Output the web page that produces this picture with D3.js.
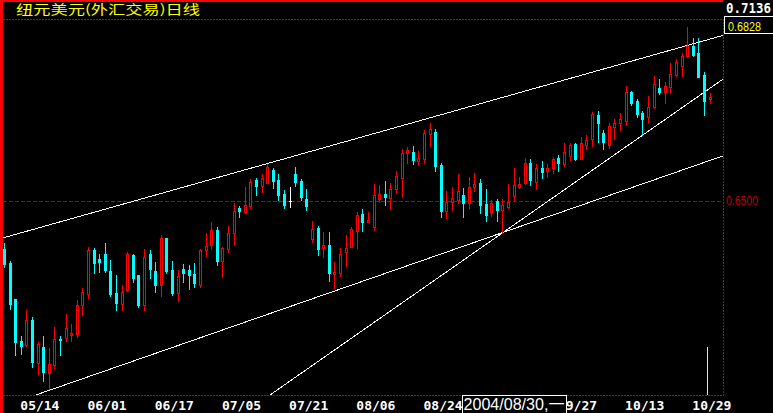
<!DOCTYPE html>
<html><head><meta charset="utf-8">
<script src="https://cdn.jsdelivr.net/npm/d3@7"></script>
<style>
html,body{margin:0;padding:0;background:#000;overflow:hidden;}
svg{display:block;}
</style></head><body>
<svg id="c" width="773" height="413"></svg>
<script>
const title = "纽元美元(外汇交易)日线";
const dates = ["05/11","05/12","05/13","05/14","05/17","05/18","05/19","05/20","05/21","05/24","05/25","05/26","05/27","05/28","05/31",
"06/01","06/02","06/03","06/04","06/07","06/08","06/09","06/10","06/11","06/14","06/15","06/16","06/17","06/18","06/21","06/22","06/23","06/24","06/25","06/28","06/29","06/30",
"07/01","07/02","07/05","07/06","07/07","07/08","07/09","07/12","07/13","07/14","07/15","07/16","07/19","07/20","07/21","07/22","07/23","07/26","07/27","07/28","07/29","07/30",
"08/02","08/03","08/04","08/05","08/06","08/09","08/10","08/11","08/12","08/13","08/16","08/17","08/18","08/19","08/20","08/23","08/24","08/25","08/26","08/27","08/30","08/31",
"09/01","09/02","09/03","09/06","09/07","09/08","09/09","09/10","09/13","09/14","09/15","09/16","09/17","09/20","09/21","09/22","09/23","09/24","09/27","09/28","09/29","09/30",
"10/01","10/04","10/05","10/06","10/07","10/08","10/11","10/12","10/13","10/14","10/15","10/18","10/19","10/20","10/21","10/22","10/25","10/26","10/27","10/28","10/29",
"11/01","11/02","11/03"];
const openV = [0.6348,0.6303,0.6190,0.6058,0.6044,0.6123,0.5988,0.6039,0.5957,0.5982,0.6063,0.6067,0.6077,0.6080,0.6170,
0.6207,0.6345,0.6316,0.6332,0.6278,0.6208,0.6175,0.6217,0.6328,0.6266,0.6171,0.6332,0.6278,0.6233,0.6383,0.6282,0.6208,0.6285,0.6282,0.6269,0.6234,0.6345,
0.6361,0.6408,0.6309,0.6348,0.6400,0.6478,0.6466,0.6484,0.6566,0.6548,0.6558,0.6598,0.6566,0.6522,0.6500,0.6585,0.6563,0.6506,0.6380,0.6415,0.6352,0.6361,
0.6270,0.6272,0.6340,0.6354,0.6405,0.6459,0.6434,0.6418,0.6507,0.6522,0.6510,0.6539,0.6574,0.6653,0.6655,0.6627,0.6634,0.6713,0.6718,0.6614,0.6469,0.6498,
0.6503,0.6519,0.6494,0.6545,0.6557,0.6490,0.6466,0.6501,0.6472,0.6482,0.6517,0.6543,0.6556,0.6620,0.6559,0.6603,0.6596,0.6604,0.6637,0.6617,0.6642,0.6681,
0.6633,0.6678,0.6695,0.6772,0.6714,0.6677,0.6735,0.6746,0.6753,0.6846,0.6816,0.6777,0.6765,0.6796,0.6857,0.6846,0.6862,0.6898,0.6927,0.6959,0.6990,
0.6969,0.6899,0.6824];
const highV = [0.6368,0.6310,0.6191,0.6073,0.6155,0.6133,0.6055,0.6073,0.6035,0.6101,0.6073,0.6142,0.6111,0.6187,0.6225,
0.6354,0.6352,0.6332,0.6367,0.6313,0.6266,0.6234,0.6339,0.6332,0.6266,0.6348,0.6345,0.6306,0.6393,0.6384,0.6310,0.6282,0.6301,0.6297,0.6304,0.6348,0.6399,
0.6433,0.6418,0.6355,0.6421,0.6493,0.6484,0.6544,0.6570,0.6574,0.6585,0.6617,0.6603,0.6585,0.6535,0.6544,0.6608,0.6570,0.6538,0.6437,0.6421,0.6402,0.6402,
0.6307,0.6351,0.6392,0.6418,0.6465,0.6475,0.6465,0.6554,0.6551,0.6563,0.6557,0.6595,0.6665,0.6671,0.6674,0.6658,0.6725,0.6747,0.6728,0.6620,0.6532,0.6544,
0.6585,0.6541,0.6576,0.6589,0.6570,0.6538,0.6503,0.6505,0.6506,0.6554,0.6603,0.6575,0.6635,0.6633,0.6616,0.6627,0.6616,0.6639,0.6645,0.6684,0.6684,0.6684,
0.6701,0.6709,0.6781,0.6786,0.6725,0.6746,0.6758,0.6777,0.6864,0.6849,0.6823,0.6786,0.6832,0.6896,0.6886,0.6877,0.6936,0.6948,0.6967,0.7052,0.7015,
0.7015,0.6909,0.6843];
const lowV = [0.6292,0.6159,0.6013,0.6016,0.6041,0.5976,0.5953,0.5930,0.5904,0.5972,0.6013,0.6057,0.6058,0.6069,0.6139,
0.6193,0.6273,0.6276,0.6275,0.6198,0.6155,0.6156,0.6215,0.6244,0.6164,0.6155,0.6257,0.6212,0.6198,0.6273,0.6201,0.6185,0.6245,0.6221,0.6229,0.6228,0.6326,
0.6348,0.6297,0.6259,0.6339,0.6361,0.6450,0.6463,0.6477,0.6519,0.6529,0.6556,0.6541,0.6503,0.6478,0.6481,0.6547,0.6503,0.6472,0.6370,0.6329,0.6323,0.6247,
0.6225,0.6263,0.6294,0.6354,0.6351,0.6405,0.6434,0.6408,0.6497,0.6487,0.6475,0.6525,0.6513,0.6620,0.6617,0.6614,0.6620,0.6674,0.6595,0.6449,0.6446,0.6472,
0.6494,0.6449,0.6478,0.6532,0.6461,0.6438,0.6453,0.6438,0.6400,0.6477,0.6503,0.6540,0.6553,0.6551,0.6537,0.6573,0.6577,0.6589,0.6596,0.6611,0.6630,0.6630,
0.6633,0.6665,0.6674,0.6688,0.6666,0.6667,0.6695,0.6725,0.6741,0.6804,0.6767,0.6709,0.6751,0.6793,0.6839,0.6811,0.6843,0.6896,0.6896,0.6957,0.6959,
0.6891,0.6772,0.6811];
const closeV = [0.6301,0.6174,0.6055,0.6042,0.6123,0.5991,0.6047,0.5959,0.5984,0.6063,0.6061,0.6098,0.6082,0.6170,0.6211,
0.6345,0.6305,0.6307,0.6282,0.6206,0.6178,0.6212,0.6332,0.6256,0.6171,0.6322,0.6286,0.6235,0.6382,0.6278,0.6210,0.6262,0.6273,0.6267,0.6240,0.6345,0.6358,
0.6408,0.6310,0.6351,0.6399,0.6468,0.6468,0.6486,0.6560,0.6548,0.6572,0.6608,0.6563,0.6519,0.6487,0.6500,0.6560,0.6514,0.6484,0.6411,0.6348,0.6361,0.6272,
0.6275,0.6332,0.6351,0.6411,0.6456,0.6433,0.6440,0.6519,0.6522,0.6513,0.6538,0.6579,0.6652,0.6661,0.6630,0.6636,0.6715,0.6728,0.6611,0.6468,0.6498,0.6509,
0.6532,0.6493,0.6544,0.6554,0.6487,0.6456,0.6493,0.6472,0.6486,0.6497,0.6550,0.6553,0.6619,0.6566,0.6603,0.6593,0.6603,0.6632,0.6620,0.6654,0.6677,0.6633,
0.6683,0.6692,0.6775,0.6748,0.6688,0.6737,0.6746,0.6758,0.6845,0.6811,0.6775,0.6759,0.6796,0.6869,0.6846,0.6864,0.6901,0.6939,0.6959,0.6990,0.6962,
0.6893,0.6817,0.6828];
const tickDates = ["05/14","06/01","06/17","07/05","07/21","08/06","08/24","09/09","09/27","10/13","10/29"];
const priceTicks = [0.65];
const yDomain = [0.5886, 0.7136];
const topValue = 0.7136;
const lastValue = 0.6828;
const cursorLabel = "2004/08/30,一";
// trend lines: [index, price] anchor pairs
const trendUpper = [[0, 0.6384], [126, 0.7012]];
const trendLower = [[0, 0.5851], [126, 0.6628]];
const trendSteep = [[50, 0.5917], [126, 0.6856]];

const svg = d3.select("#c");
const P = {left:3, right:723, top:19, bottom:395};
const x = d3.scaleLinear().domain([0, dates.length - 1]).range([4, 709.6]);
const y = d3.scaleLinear().domain(yDomain).range([395, 0]);

svg.append("rect").attr("width",773).attr("height",413).attr("fill","#000");

const defs = svg.append("defs");
defs.append("clipPath").attr("id","clip").append("rect")
  .attr("x",P.left).attr("y",P.top+1).attr("width",P.right-P.left).attr("height",P.bottom-P.top-1);

// 0.65 gridline
svg.selectAll("line.grid").data(priceTicks).enter().append("line")
  .attr("x1",P.left).attr("x2",P.right)
  .attr("y1",d=>Math.round(y(d))+0.5).attr("y2",d=>Math.round(y(d))+0.5)
  .attr("stroke","#c00000").attr("stroke-dasharray","4,2").attr("shape-rendering","crispEdges");

// trend lines
const lineGen = d3.line().x(d=>x(d[0])).y(d=>y(d[1]));
const trendG = svg.append("g").attr("clip-path","url(#clip)");
[trendUpper, trendLower, trendSteep].forEach(t=>{
  const s = (t[1][1]-t[0][1])/(t[1][0]-t[0][0]);
  const pts = [[-3, t[0][1] + s*(-3 - t[0][0])], [132, t[0][1] + s*(132 - t[0][0])]];
  trendG.append("path").attr("d", lineGen(pts)).attr("fill","none")
    .attr("stroke","#fff").attr("stroke-width",1).attr("shape-rendering","crispEdges");
});

// candles
const candles = dates.map((d,i)=>({i, o:openV[i], h:highV[i], l:lowV[i], c:closeV[i]}));
const cg = svg.append("g").attr("clip-path","url(#clip)").attr("shape-rendering","crispEdges");
candles.forEach(k=>{
  const cx = Math.round(x(k.i));
  const yH = Math.round(y(k.h)), yL = Math.round(y(k.l));
  const yO = Math.round(y(k.o)), yC = Math.round(y(k.c));
  const top = Math.min(yO,yC), bot = Math.max(yO,yC);
  if (k.c > k.o) {
    const col = "#ff0000";
    if (top > yH) cg.append("rect").attr("x",cx).attr("y",yH).attr("width",1).attr("height",top-yH).attr("fill",col);
    if (yL > bot) cg.append("rect").attr("x",cx).attr("y",bot+1).attr("width",1).attr("height",yL-bot).attr("fill",col);
    if (bot - top >= 2) {
      cg.append("rect").attr("x",cx-0.5).attr("y",top+0.5).attr("width",2).attr("height",bot-top)
        .attr("fill","#000").attr("stroke",col).attr("stroke-width",1);
    } else {
      cg.append("rect").attr("x",cx-1).attr("y",top).attr("width",3).attr("height",bot-top+1).attr("fill",col);
    }
  } else if (k.c < k.o) {
    const col = "#00ffff";
    cg.append("rect").attr("x",cx).attr("y",yH).attr("width",1).attr("height",Math.max(1,yL-yH+1)).attr("fill",col);
    cg.append("rect").attr("x",cx-1).attr("y",top).attr("width",3).attr("height",Math.max(1,bot-top+1)).attr("fill",col);
  } else {
    const col = "#ffffff";
    cg.append("rect").attr("x",cx).attr("y",yH).attr("width",1).attr("height",Math.max(1,yL-yH+1)).attr("fill",col);
    cg.append("rect").attr("x",cx-1).attr("y",top).attr("width",3).attr("height",1).attr("fill",col);
  }
});

// frame
svg.append("rect").attr("x",0).attr("y",0).attr("width",3).attr("height",413).attr("fill","#ff0000");
svg.append("rect").attr("x",0).attr("y",0).attr("width",P.right).attr("height",2).attr("fill","#ff0000");
const frameStyle = s => s.attr("stroke","#cc0000").attr("stroke-dasharray","2,1").attr("shape-rendering","crispEdges");
frameStyle(svg.append("line").attr("x1",P.left).attr("x2",P.right).attr("y1",P.top+0.5).attr("y2",P.top+0.5));
frameStyle(svg.append("line").attr("x1",P.left).attr("x2",P.right+1).attr("y1",P.bottom+0.5).attr("y2",P.bottom+0.5));
frameStyle(svg.append("line").attr("x1",P.right+0.5).attr("x2",P.right+0.5).attr("y1",P.top).attr("y2",P.bottom+1));

// marker line near last bar
const mx = Math.round(x(dates.length-1)) - 3;
svg.append("rect").attr("x",mx).attr("y",347).attr("width",1).attr("height",P.bottom-347).attr("fill","#ffff00");

// x axis
const tickIdx = tickDates.map(t=>dates.indexOf(t));
const xAxis = d3.axisBottom(x).tickValues(tickIdx).tickFormat(i=>dates[i]).tickSize(0);
const gx = svg.append("g").attr("transform",`translate(0,${P.bottom})`).call(xAxis);
gx.select(".domain").remove();
gx.selectAll("text").attr("y",15).attr("dy",0).attr("x",-1).attr("text-anchor","start")
  .attr("fill","#fff").attr("font-family","'DejaVu Sans Mono', monospace").attr("font-weight","bold").attr("font-size","13px");

// y axis (right)
const yAxis = d3.axisRight(y).tickValues(priceTicks).tickFormat(d3.format(".4f")).tickSize(0).tickPadding(3);
const gy = svg.append("g").attr("transform",`translate(${P.right},0)`).call(yAxis);
gy.select(".domain").remove();
gy.selectAll("text").attr("fill","#c00000").attr("font-family","'Liberation Sans', Arial, sans-serif")
  .attr("font-size","12.5px").attr("textLength",32).attr("lengthAdjust","spacingAndGlyphs");

// title
svg.append("text").attr("x",16).attr("y",13.5).text(title)
  .attr("fill","#ffff00").attr("font-family","'Noto Sans CJK SC', sans-serif").attr("font-size","13px")
  .attr("textLength",184).attr("lengthAdjust","spacingAndGlyphs");

// top value
svg.append("text").attr("x",726).attr("y",12.7).text(d3.format(".4f")(topValue))
  .attr("fill","#fff").attr("font-family","'DejaVu Sans Mono', monospace").attr("font-weight","bold")
  .attr("font-size","14px").attr("textLength",45).attr("lengthAdjust","spacingAndGlyphs");

// last value box
svg.append("rect").attr("x",724.5).attr("y",16.5).attr("width",60).attr("height",17)
  .attr("fill","#000").attr("stroke","#fff").attr("shape-rendering","crispEdges");
svg.append("text").attr("x",728).attr("y",30.5).text(d3.format(".4f")(lastValue))
  .attr("fill","#ffff00").attr("font-family","'Liberation Sans', Arial, sans-serif")
  .attr("font-size","12.5px").attr("textLength",33).attr("lengthAdjust","spacingAndGlyphs");
svg.append("rect").attr("x",729).attr("y",19.5).attr("width",33).attr("height",1).attr("fill","#0000c0");

// cursor date box
svg.append("rect").attr("x",462.5).attr("y",395.5).attr("width",104).attr("height",20)
  .attr("fill","#000").attr("stroke","#fff").attr("shape-rendering","crispEdges");
svg.append("text").attr("x",463.5).attr("y",410).text(cursorLabel)
  .attr("fill","#fff").attr("font-family","'Liberation Sans', 'Noto Sans CJK SC', sans-serif")
  .attr("font-size","16px").attr("textLength",101).attr("lengthAdjust","spacingAndGlyphs");
</script>
</body></html>
